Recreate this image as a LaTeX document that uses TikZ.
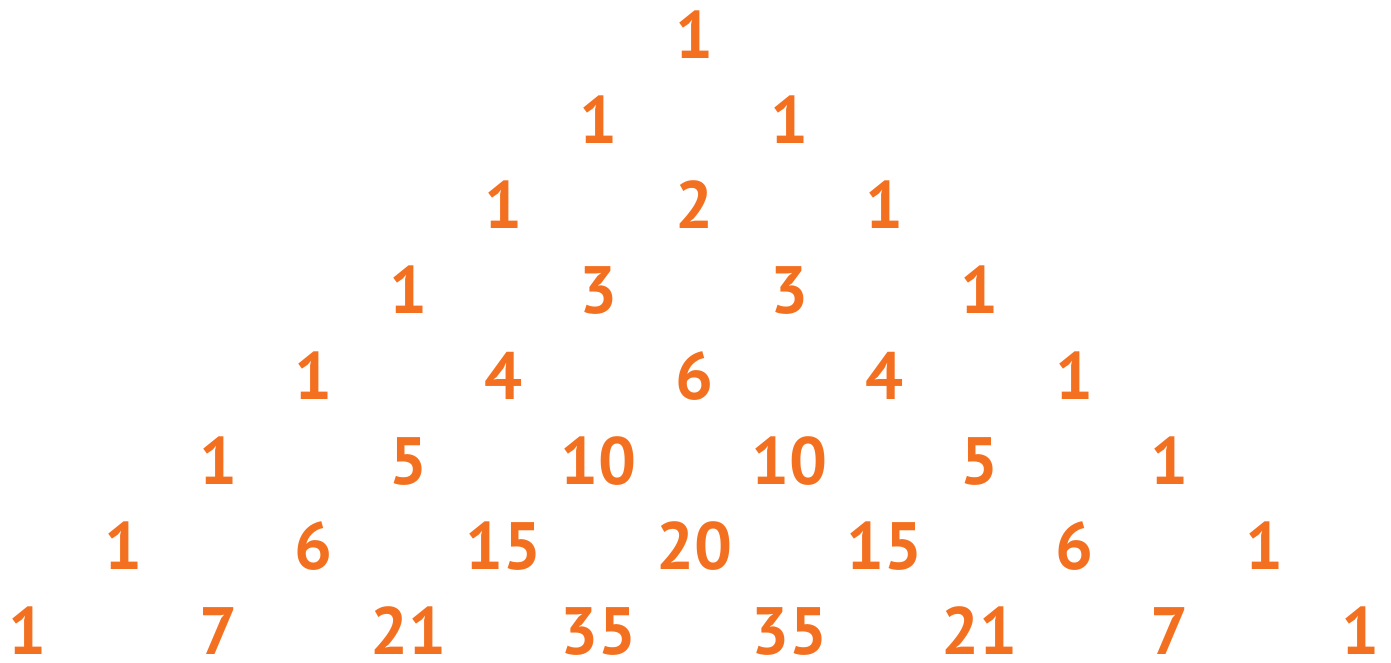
\documentclass[tikz,border=0pt]{standalone}
\usepackage{fontspec}
\setmainfont{PT Sans}
\usepackage{tikz}
\usetikzlibrary{positioning}
\definecolor{pascalorange}{HTML}{F37021}

\begin{document}
\begin{tikzpicture}[
  x=1pt, y=1pt,
  num/.style={text=pascalorange, font=\fontsize{67}{67}\selectfont\bfseries, anchor=base, inner sep=0pt, text depth=0pt}
]
\useasboundingbox (0,0) rectangle (1391,662);
\foreach \vals [count=\r from 0] in {{1},{1,1},{1,2,1},{1,3,3,1},{1,4,6,4,1},{1,5,10,10,5,1},{1,6,15,20,15,6,1},{1,7,21,35,35,21,7,1}}{
  \foreach \v [count=\k from 0] in \vals {
    \node[num] (n-\r-\k) at ({694 + (\k - \r/2)*190.3}, {603 - 85*\r}) {\v};
  }
}
\end{tikzpicture}
\end{document}
